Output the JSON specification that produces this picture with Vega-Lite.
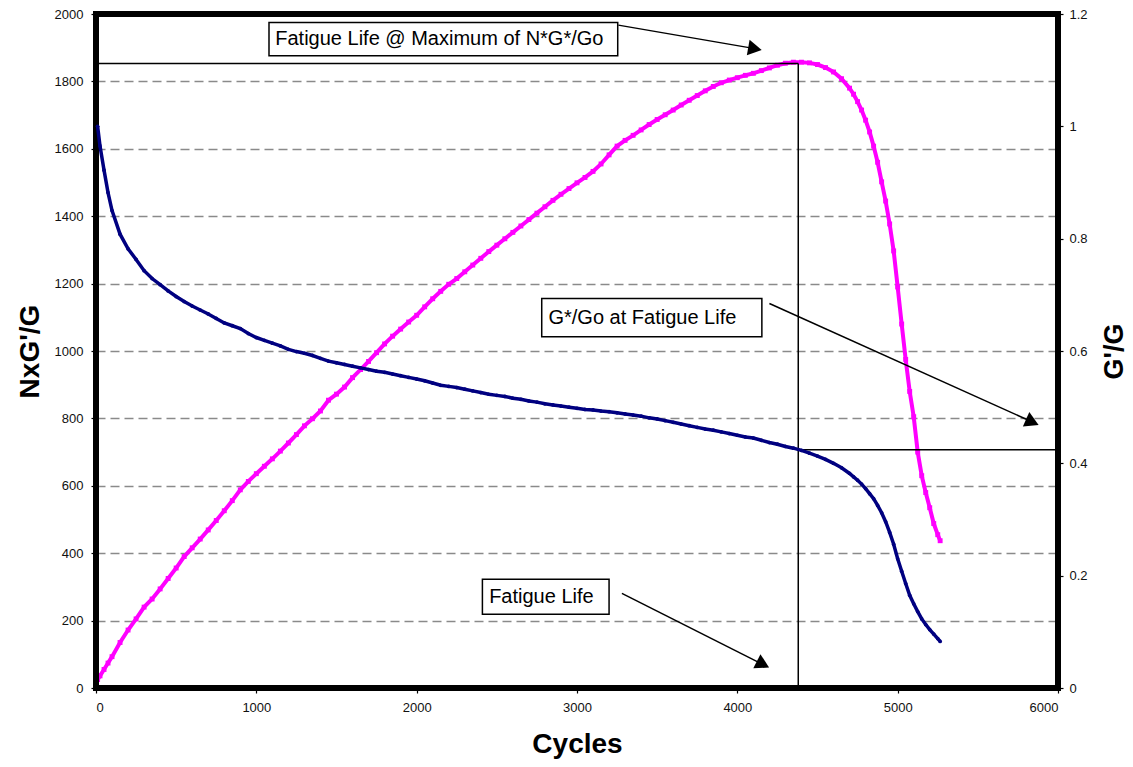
{
  "$schema": "https://vega.github.io/schema/vega-lite/v6.json",
  "width": 962,
  "height": 674,
  "autosize": {"type": "none"},
  "padding": {"left": 96, "top": 14, "right": 75, "bottom": 79},
  "background": "white",
  "config": {
    "font": "Liberation Sans",
    "view": {"stroke": null},
    "axis": {
      "labelFont": "Liberation Sans",
      "labelFontSize": 13,
      "labelColor": "#111",
      "tickColor": "black",
      "tickSize": 5,
      "tickWidth": 1.2,
      "domain": false,
      "titleFont": "Liberation Sans",
      "titleFontWeight": "bold",
      "titleColor": "black",
      "grid": false
    }
  },
  "datasets": {
    "curves": [
      {"N": 10, "r": 1.000, "v": 25},
      {"N": 25, "r": 0.965, "v": 36},
      {"N": 50, "r": 0.922, "v": 55},
      {"N": 75, "r": 0.882, "v": 74},
      {"N": 100, "r": 0.850, "v": 93},
      {"N": 150, "r": 0.808, "v": 135},
      {"N": 200, "r": 0.782, "v": 172},
      {"N": 250, "r": 0.763, "v": 205},
      {"N": 300, "r": 0.743, "v": 240},
      {"N": 350, "r": 0.729, "v": 264},
      {"N": 400, "r": 0.718, "v": 294},
      {"N": 450, "r": 0.707, "v": 325},
      {"N": 500, "r": 0.697, "v": 356},
      {"N": 550, "r": 0.688, "v": 390},
      {"N": 600, "r": 0.680, "v": 416},
      {"N": 650, "r": 0.673, "v": 442},
      {"N": 700, "r": 0.666, "v": 469},
      {"N": 750, "r": 0.658, "v": 497},
      {"N": 800, "r": 0.650, "v": 526},
      {"N": 850, "r": 0.645, "v": 556},
      {"N": 900, "r": 0.640, "v": 588},
      {"N": 950, "r": 0.631, "v": 613},
      {"N": 1000, "r": 0.624, "v": 636},
      {"N": 1050, "r": 0.619, "v": 658},
      {"N": 1100, "r": 0.614, "v": 680},
      {"N": 1150, "r": 0.609, "v": 703},
      {"N": 1200, "r": 0.603, "v": 727},
      {"N": 1250, "r": 0.599, "v": 752},
      {"N": 1300, "r": 0.596, "v": 778},
      {"N": 1350, "r": 0.592, "v": 799},
      {"N": 1400, "r": 0.587, "v": 822},
      {"N": 1450, "r": 0.582, "v": 854},
      {"N": 1500, "r": 0.579, "v": 872},
      {"N": 1550, "r": 0.576, "v": 893},
      {"N": 1600, "r": 0.573, "v": 921},
      {"N": 1650, "r": 0.570, "v": 945},
      {"N": 1700, "r": 0.567, "v": 969},
      {"N": 1750, "r": 0.564, "v": 995},
      {"N": 1800, "r": 0.562, "v": 1021},
      {"N": 1850, "r": 0.559, "v": 1044},
      {"N": 1900, "r": 0.556, "v": 1065},
      {"N": 1950, "r": 0.553, "v": 1086},
      {"N": 2000, "r": 0.550, "v": 1106},
      {"N": 2050, "r": 0.547, "v": 1131},
      {"N": 2100, "r": 0.543, "v": 1155},
      {"N": 2150, "r": 0.539, "v": 1177},
      {"N": 2200, "r": 0.537, "v": 1198},
      {"N": 2250, "r": 0.535, "v": 1215},
      {"N": 2300, "r": 0.532, "v": 1235},
      {"N": 2350, "r": 0.529, "v": 1255},
      {"N": 2400, "r": 0.526, "v": 1275},
      {"N": 2450, "r": 0.523, "v": 1295},
      {"N": 2500, "r": 0.521, "v": 1314},
      {"N": 2550, "r": 0.519, "v": 1333},
      {"N": 2600, "r": 0.516, "v": 1352},
      {"N": 2650, "r": 0.514, "v": 1371},
      {"N": 2700, "r": 0.511, "v": 1390},
      {"N": 2750, "r": 0.509, "v": 1409},
      {"N": 2800, "r": 0.506, "v": 1428},
      {"N": 2850, "r": 0.504, "v": 1447},
      {"N": 2900, "r": 0.502, "v": 1465},
      {"N": 2950, "r": 0.500, "v": 1482},
      {"N": 3000, "r": 0.498, "v": 1499},
      {"N": 3050, "r": 0.496, "v": 1515},
      {"N": 3100, "r": 0.495, "v": 1533},
      {"N": 3150, "r": 0.493, "v": 1555},
      {"N": 3200, "r": 0.492, "v": 1582},
      {"N": 3250, "r": 0.490, "v": 1608},
      {"N": 3300, "r": 0.488, "v": 1625},
      {"N": 3350, "r": 0.486, "v": 1640},
      {"N": 3400, "r": 0.484, "v": 1656},
      {"N": 3450, "r": 0.481, "v": 1672},
      {"N": 3500, "r": 0.479, "v": 1687},
      {"N": 3550, "r": 0.476, "v": 1701},
      {"N": 3600, "r": 0.473, "v": 1715},
      {"N": 3650, "r": 0.470, "v": 1730},
      {"N": 3700, "r": 0.467, "v": 1744},
      {"N": 3750, "r": 0.464, "v": 1758},
      {"N": 3800, "r": 0.461, "v": 1772},
      {"N": 3850, "r": 0.459, "v": 1785},
      {"N": 3900, "r": 0.456, "v": 1796},
      {"N": 3950, "r": 0.453, "v": 1804},
      {"N": 4000, "r": 0.450, "v": 1811},
      {"N": 4050, "r": 0.447, "v": 1818},
      {"N": 4100, "r": 0.445, "v": 1824},
      {"N": 4150, "r": 0.441, "v": 1832},
      {"N": 4200, "r": 0.437, "v": 1840},
      {"N": 4250, "r": 0.434, "v": 1848},
      {"N": 4300, "r": 0.430, "v": 1854},
      {"N": 4350, "r": 0.427, "v": 1857},
      {"N": 4400, "r": 0.423, "v": 1857},
      {"N": 4450, "r": 0.418, "v": 1855},
      {"N": 4500, "r": 0.413, "v": 1850},
      {"N": 4550, "r": 0.407, "v": 1841},
      {"N": 4600, "r": 0.400, "v": 1828},
      {"N": 4650, "r": 0.392, "v": 1808},
      {"N": 4700, "r": 0.382, "v": 1780},
      {"N": 4725, "r": 0.376, "v": 1762},
      {"N": 4750, "r": 0.370, "v": 1740},
      {"N": 4775, "r": 0.363, "v": 1715},
      {"N": 4800, "r": 0.355, "v": 1685},
      {"N": 4825, "r": 0.346, "v": 1650},
      {"N": 4850, "r": 0.337, "v": 1608},
      {"N": 4875, "r": 0.325, "v": 1560},
      {"N": 4900, "r": 0.312, "v": 1502},
      {"N": 4925, "r": 0.296, "v": 1445},
      {"N": 4950, "r": 0.277, "v": 1377},
      {"N": 4975, "r": 0.256, "v": 1297},
      {"N": 5000, "r": 0.230, "v": 1190},
      {"N": 5025, "r": 0.208, "v": 1080},
      {"N": 5050, "r": 0.186, "v": 975},
      {"N": 5075, "r": 0.165, "v": 880},
      {"N": 5100, "r": 0.150, "v": 805},
      {"N": 5125, "r": 0.136, "v": 700},
      {"N": 5150, "r": 0.123, "v": 630},
      {"N": 5175, "r": 0.113, "v": 580},
      {"N": 5200, "r": 0.104, "v": 535},
      {"N": 5225, "r": 0.096, "v": 488},
      {"N": 5250, "r": 0.088, "v": 455},
      {"N": 5265, "r": 0.083, "v": 437}
    ],
    "lines": [
      {"x1": 0, "x2": 4380, "y1": 1853, "y2": 1853},
      {"x1": 4380, "x2": 4380, "y1": 0, "y2": 1853},
      {"x1": 4380, "x2": 6000, "y1": 707, "y2": 707},
      {"x1": 3258, "x2": 4100, "y1": 1967, "y2": 1898},
      {"x1": 4200, "x2": 5837, "y1": 1141, "y2": 790},
      {"x1": 3280, "x2": 4155, "y1": 281, "y2": 71}
    ],
    "frame": [
      {"x1": 0, "x2": 6000, "y1": 0, "y2": 0},
      {"x1": 0, "x2": 6000, "y1": 2000, "y2": 2000},
      {"x1": 0, "x2": 0, "y1": 0, "y2": 2000},
      {"x1": 6000, "x2": 6000, "y1": 0, "y2": 2000}
    ],
    "boxes": [
      {"x1": 1079, "x2": 3254, "y1": 1876, "y2": 1975, "tx": 1118, "ty": 1925, "label": "Fatigue Life @ Maximum of N*G*/Go"},
      {"x1": 2780, "x2": 4153, "y1": 1042, "y2": 1156, "tx": 2822, "ty": 1099, "label": "G*/Go at Fatigue Life"},
      {"x1": 2410, "x2": 3200, "y1": 219, "y2": 323, "tx": 2452, "ty": 271, "label": "Fatigue Life"}
    ]
  },
  "resolve": {"scale": {"y": "independent"}},
  "layer": [
    {
      "layer": [
        {
          "data": {"name": "curves"},
          "mark": {"type": "line", "color": "#FF00FF", "strokeWidth": 4},
          "encoding": {
            "x": {"field": "N", "type": "quantitative", "scale": {"domain": [0, 6000], "nice": false},
                  "axis": {"title": "Cycles", "values": [0, 1000, 2000, 3000, 4000, 5000, 6000], "format": "d", "labelPadding": 8, "titleFontSize": 28, "titlePadding": 16}},
            "y": {"field": "v", "type": "quantitative", "scale": {"domain": [0, 2000], "nice": false},
                  "axis": {"title": "NxG'/G", "values": [0, 200, 400, 600, 800, 1000, 1200, 1400, 1600, 1800, 2000], "format": "d", "grid": true, "gridDash": [9, 5], "gridColor": "#8a8a8a", "gridWidth": 1.5, "labelPadding": 8, "titleFontSize": 28, "titlePadding": 10}}
          }
        },
        {
          "data": {"name": "curves"},
          "mark": {"type": "point", "shape": "square", "filled": true, "color": "#FF00FF", "size": 24, "opacity": 1},
          "encoding": {
            "x": {"field": "N", "type": "quantitative", "scale": {"domain": [0, 6000], "nice": false}},
            "y": {"field": "v", "type": "quantitative"}
          }
        },
        {
          "data": {"name": "lines"},
          "mark": {"type": "rule", "color": "black", "strokeWidth": 1.5},
          "encoding": {
            "x": {"field": "x1", "type": "quantitative", "scale": {"domain": [0, 6000], "nice": false}},
            "x2": {"field": "x2"},
            "y": {"field": "y1", "type": "quantitative"},
            "y2": {"field": "y2"}
          }
        },
        {
          "data": {"name": "frame"},
          "mark": {"type": "rule", "color": "black", "strokeWidth": 6, "strokeCap": "square"},
          "encoding": {
            "x": {"field": "x1", "type": "quantitative", "scale": {"domain": [0, 6000], "nice": false}},
            "x2": {"field": "x2"},
            "y": {"field": "y1", "type": "quantitative"},
            "y2": {"field": "y2"}
          }
        },
        {
          "data": {"values": [{"x": 4110, "y": 1897}]},
          "mark": {"type": "point", "shape": "triangle-right", "filled": true, "color": "black", "size": 250, "opacity": 1, "angle": 10},
          "encoding": {
            "x": {"field": "x", "type": "quantitative", "scale": {"domain": [0, 6000], "nice": false}},
            "y": {"field": "y", "type": "quantitative"}
          }
        },
        {
          "data": {"values": [{"x": 5840, "y": 789}]},
          "mark": {"type": "point", "shape": "triangle-right", "filled": true, "color": "black", "size": 250, "opacity": 1, "angle": 24},
          "encoding": {
            "x": {"field": "x", "type": "quantitative", "scale": {"domain": [0, 6000], "nice": false}},
            "y": {"field": "y", "type": "quantitative"}
          }
        },
        {
          "data": {"values": [{"x": 4160, "y": 70}]},
          "mark": {"type": "point", "shape": "triangle-right", "filled": true, "color": "black", "size": 250, "opacity": 1, "angle": 27},
          "encoding": {
            "x": {"field": "x", "type": "quantitative", "scale": {"domain": [0, 6000], "nice": false}},
            "y": {"field": "y", "type": "quantitative"}
          }
        },
        {
          "data": {"name": "boxes"},
          "mark": {"type": "rect", "fill": "white", "stroke": "black", "strokeWidth": 1.5},
          "encoding": {
            "x": {"field": "x1", "type": "quantitative", "scale": {"domain": [0, 6000], "nice": false}},
            "x2": {"field": "x2"},
            "y": {"field": "y1", "type": "quantitative"},
            "y2": {"field": "y2"}
          }
        },
        {
          "data": {"name": "boxes"},
          "mark": {"type": "text", "align": "left", "baseline": "middle", "font": "Liberation Sans", "fontSize": 20, "color": "black"},
          "encoding": {
            "x": {"field": "tx", "type": "quantitative", "scale": {"domain": [0, 6000], "nice": false}},
            "y": {"field": "ty", "type": "quantitative"},
            "text": {"field": "label"}
          }
        }
      ]
    },
    {
      "layer": [
        {
          "data": {"name": "curves"},
          "mark": {"type": "line", "color": "#000080", "strokeWidth": 3.5},
          "encoding": {
            "x": {"field": "N", "type": "quantitative", "scale": {"domain": [0, 6000], "nice": false}},
            "y": {"field": "r", "type": "quantitative", "scale": {"domain": [0, 1.2], "nice": false},
                  "axis": {"orient": "right", "title": "G'/G", "values": [0, 0.2, 0.4, 0.6, 0.8, 1, 1.2], "format": "~g", "labelPadding": 6, "titleFontSize": 27, "titlePadding": 14, "titleAngle": -90, "titleBaseline": "top"}}
          }
        },
        {
          "data": {"name": "curves"},
          "mark": {"type": "point", "shape": "circle", "filled": true, "color": "#000080", "size": 14, "opacity": 1},
          "encoding": {
            "x": {"field": "N", "type": "quantitative", "scale": {"domain": [0, 6000], "nice": false}},
            "y": {"field": "r", "type": "quantitative"}
          }
        }
      ]
    }
  ]
}
